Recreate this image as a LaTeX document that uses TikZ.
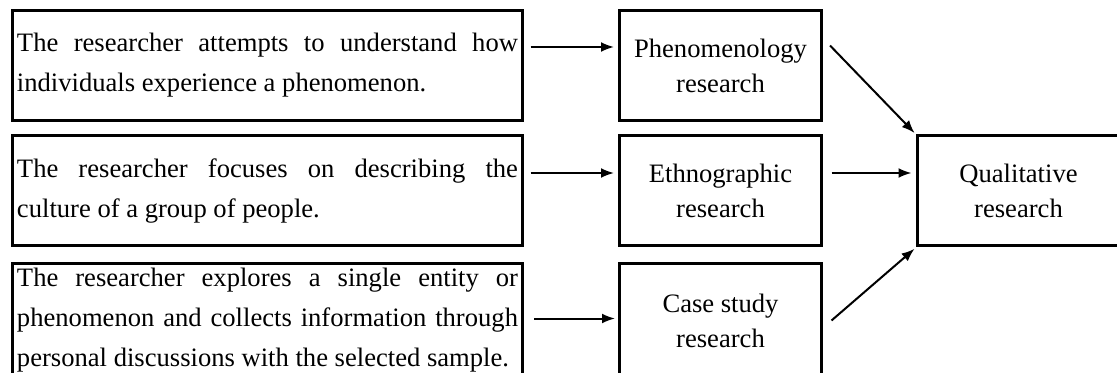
\documentclass[tikz,border=0pt]{standalone}
\usepackage{fontspec}
\setmainfont{Liberation Serif}
\usetikzlibrary{arrows.meta}
\tolerance=9999
\hyphenpenalty=10000
\exhyphenpenalty=10000
\newcommand{\noshrink}{\fontdimen4\font=0pt\relax}
\begin{document}
\begin{tikzpicture}[x=0.5pt,y=-0.5pt,
  box/.style={draw, line width=1.5pt, inner sep=0pt},
  lbox/.style={box, minimum width=255pt, minimum height=55pt, text width=250.5pt, align=justify,
    font=\fontsize{13.3pt}{20pt}\selectfont\noshrink},
  mbox/.style={box, minimum width=101pt, minimum height=55pt, align=center,
    font=\fontsize{13.3pt}{17.5pt}\selectfont},
  arr/.style={line width=1pt, -{Latex[length=6.5pt,width=5pt]}}]
\useasboundingbox (0,0) rectangle (1117,373);
\clip (0,0) rectangle (1117,373);

\node[lbox] (l1) at (267.5,65.5) {The researcher attempts to understand how individuals experience a phenomenon.};
\node[lbox] (l2) at (267.5,191) {The researcher focuses on describing the culture of a group of people.};
\node[lbox, minimum height=57pt] (l3) at (267.5,320.5) {The researcher explores a single entity or phenomenon and collects information through personal discussions with the selected sample.};

\node[mbox] (m1) at (720.5,65.5) {Phenomenology\\research};
\node[mbox] (m2) at (720.5,191) {Ethnographic\\research};
\node[mbox, minimum height=57pt] (m3) at (720.5,320.5) {Case study\\research};

\node[mbox] (r) at (1018.5,191) {Qualitative\\research};

\draw[arr, shorten <=3.25pt, shorten >=2pt] ([yshift=9.25pt]l1.east) -- ([yshift=9.25pt]m1.west);
\draw[arr, shorten <=3.25pt, shorten >=2pt] ([yshift=9pt]l2.east) -- ([yshift=9pt]m2.west);
\draw[arr, shorten <=5pt, shorten >=1.5pt] ([yshift=1pt]l3.east) -- ([yshift=1pt]m3.west);

\draw[arr, shorten >=1pt] ([shift={(3.5pt,10pt)}]m1.east) -- (r.north west);
\draw[arr, shorten <=4.25pt, shorten >=2.25pt] ([yshift=9pt]m2.east) -- ([yshift=9pt]r.west);
\draw[arr, shorten >=1pt] ([xshift=4.25pt]m3.east) -- (r.south west);
\end{tikzpicture}
\end{document}
